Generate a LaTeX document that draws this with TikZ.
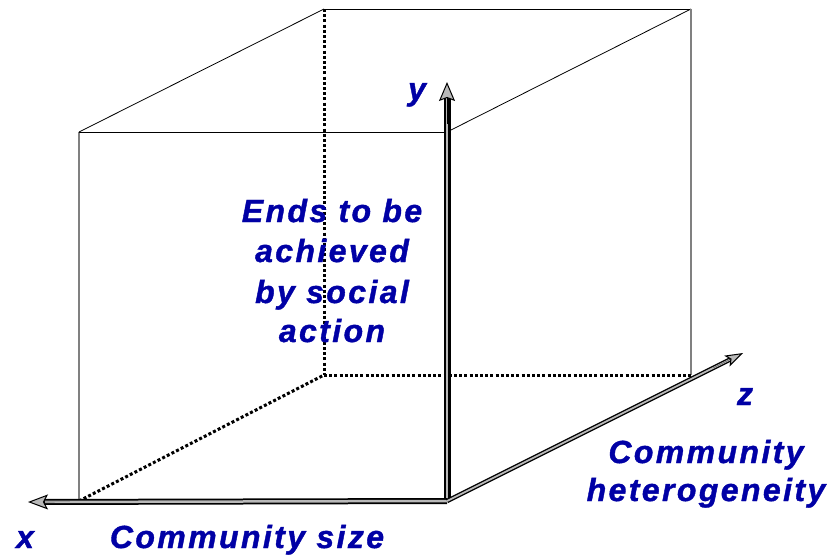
\documentclass[tikz,border=0pt]{standalone}
\usepackage{fontspec}
\setmainfont{Liberation Sans}
\newfontfamily\labfont[LetterSpace=7.5, FakeBold=1.2]{Liberation Sans}
\usetikzlibrary{arrows.meta,calc}
\definecolor{labblue}{RGB}{0,0,165}
\tikzset{
  lab/.style={font=\labfont\bfseries\itshape\fontsize{32}{40}\selectfont, text=labblue, inner sep=0pt},
  thinedge/.style={draw=black, line width=0.8pt},
  grayedge/.style={draw=gray, line width=1.2pt},
  hidden/.style={draw=black, line width=3pt, dash pattern=on 3pt off 2.2pt},
  axisout/.style={draw=black, line width=#1},
  axisin/.style={draw=gray!55, line width=#1},
}
\begin{document}
\begin{tikzpicture}[x=1pt, y=-1pt]
\useasboundingbox (0,0) rectangle (829,558);
% box corners
\coordinate (ftl) at (79,132);
\coordinate (ftr) at (447,132);
\coordinate (fbl) at (79,501);
\coordinate (o) at (447,501);
\coordinate (btl) at (324,9);
\coordinate (btr) at (691,9);
\coordinate (bbl) at (324,375);
\coordinate (bbr) at (691,375);
% axis ends
\coordinate (xend) at (28,502);
\coordinate (yend) at (447,82);
\coordinate (zend) at (743,353);
% visible edges
\draw[grayedge] (fbl) -- (ftl);
\draw[thinedge] (ftl) -- (ftr);
\draw[thinedge] (ftl) -- (btl);
\draw[thinedge] (ftr) -- (btr);
\draw[thinedge] (btl) -- (btr);
\draw[grayedge] (btr) -- (bbr);
% hidden edges
\draw[hidden] (btl) -- (bbl);
\draw[hidden] (bbl) -- (bbr);
\draw[hidden] (fbl) -- (bbl);
% axes
\draw[axisout=7pt, shorten >=14pt] (o) -- (yend);
\draw[axisin=2.5pt, shorten >=15pt] (o) -- (yend);
\draw[-{Stealth[length=19pt, width=16pt, inset=3pt, fill=gray!55, line width=1pt]}, line width=0.1pt] ($(o)!0.9!(yend)$) -- (yend);
\draw[axisout=6pt, shorten >=16pt] (o) -- (xend);
\draw[axisin=2.5pt, shorten >=17pt] (o) -- (xend);
\draw[-{Stealth[length=20pt, width=15pt, inset=4pt, fill=gray!55, line width=1pt]}, line width=0.1pt] ($(o)!0.9!(xend)$) -- (xend);
\draw[axisout=4.5pt, shorten >=14pt] (o) -- (zend);
\draw[axisin=1.8pt, shorten >=15pt] (o) -- (zend);
\draw[-{Stealth[length=18pt, width=12pt, inset=4pt, fill=gray!55, line width=1pt]}, line width=0.1pt] ($(o)!0.9!(zend)$) -- (zend);
% labels
\node[lab, anchor=base] (ylab) at (417,100) {y};
\node[lab, anchor=base] (xlab) at (25,548) {x};
\node[lab, anchor=base] (zlab) at (745,405) {z};
\node[lab, anchor=base] (xname) at (247,548) {Community size};
\node[lab, anchor=base] (zname1) at (706,463) {Community};
\node[lab, anchor=base] (zname2) at (706,501) {heterogeneity};
\node[lab, anchor=base] (e1) at (332,222) {Ends to be};
\node[lab, anchor=base] (e2) at (332,262) {achieved};
\node[lab, anchor=base] (e3) at (332,303) {by social};
\node[lab, anchor=base] (e4) at (332,342) {action};
\end{tikzpicture}
\end{document}
